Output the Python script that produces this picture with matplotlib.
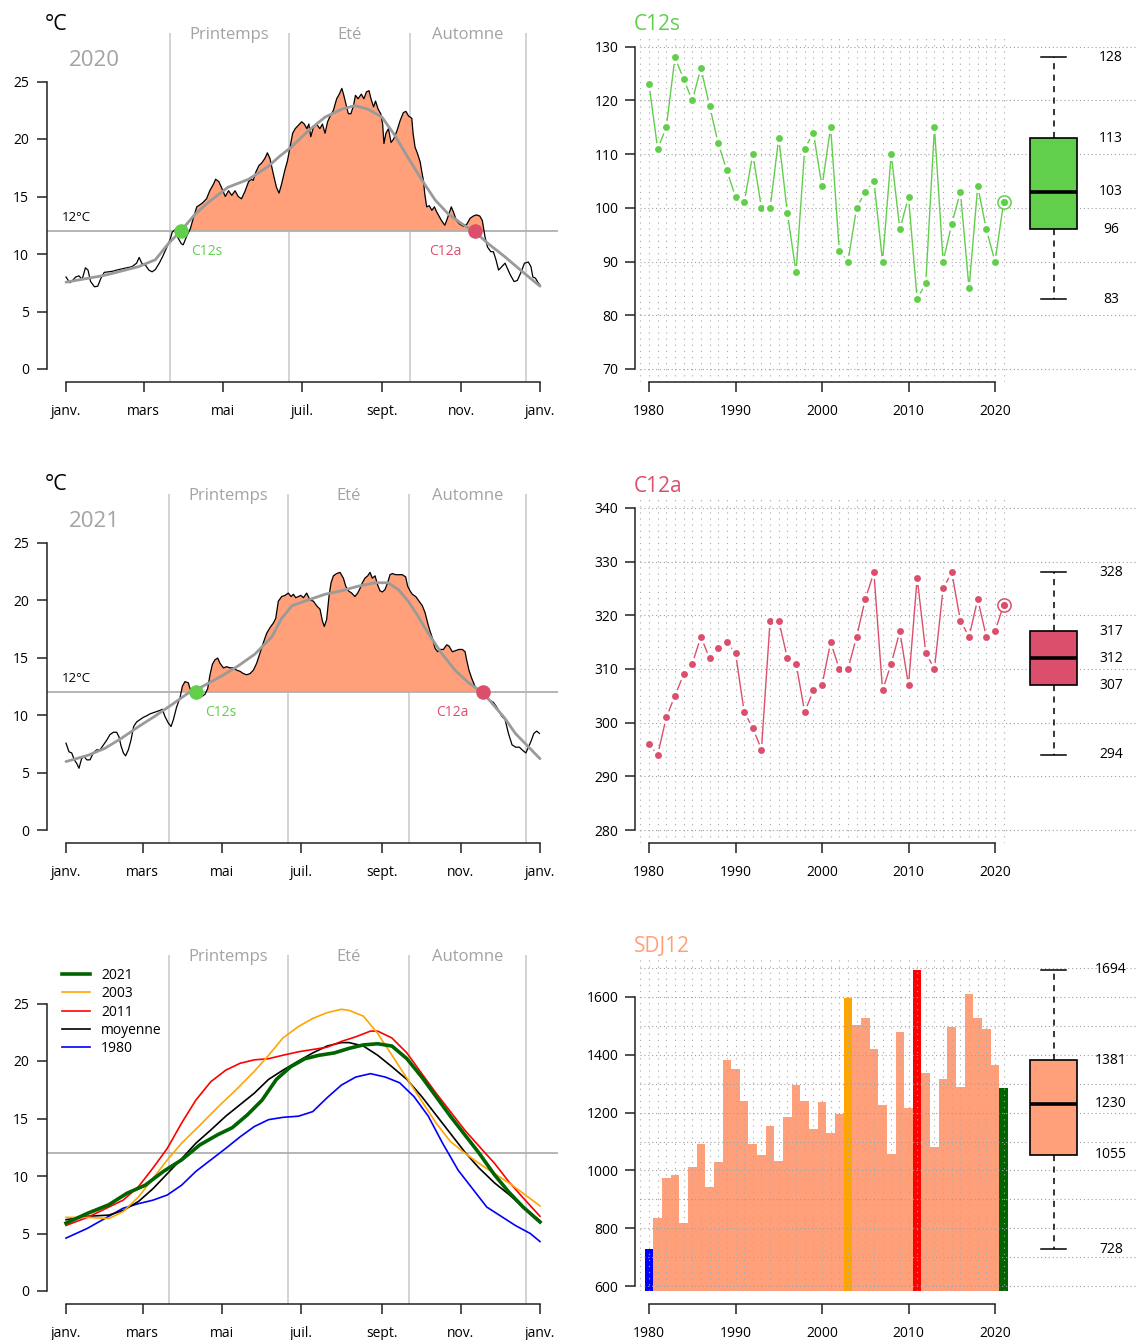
import numpy as np
import matplotlib
matplotlib.use("Agg")
import matplotlib.pyplot as plt
from matplotlib.lines import Line2D

plt.rcParams['font.family'] = ['Open Sans', 'DejaVu Sans']

# ---------------- data ----------------
years = list(range(1980, 2022))
c12s = [123, 111, 115, 128, 124, 120, 126, 119, 112, 107, 102, 101, 110, 100, 100, 113, 99, 88, 111, 114,
        104, 115, 92, 90, 100, 103, 105, 90, 110, 96, 102, 83, 86, 115, 90, 97, 103, 85, 104, 96, 90, 101]
c12a = [296, 294, 301, 305, 309, 311, 316, 312, 314, 315, 313, 302, 299, 295, 319, 319, 312, 311, 302, 306,
        307, 315, 310, 310, 316, 323, 328, 306, 311, 317, 307, 327, 313, 310, 325, 328, 319, 316, 323, 316, 317, 322]
sdj12 = [728, 837, 974, 983, 819, 1011, 1092, 942, 1028, 1383, 1350, 1240, 1090, 1055, 1153, 1032, 1184, 1295,
         1240, 1144, 1235, 1131, 1196, 1598, 1503, 1528, 1421, 1226, 1057, 1480, 1217, 1694, 1337, 1080, 1316,
         1497, 1288, 1610, 1526, 1489, 1364, 1284]
c12s_box = [83, 96, 103, 113, 128]
c12a_box = [294, 307, 312, 317, 328]
sdj12_box = [728, 1055, 1230, 1381, 1694]
highlight = {1980: 'blue', 2003: 'orange', 2011: 'red', 2021: 'darkgreen'}

month_labels = ['janv.', 'mars', 'mai', 'juil.', 'sept.', 'nov.', 'janv.']
months_2020 = [0, 60, 121, 182, 244, 305, 366]
months_2021 = [0, 59, 120, 181, 243, 304, 365]
seasons_2020 = [80, 172, 265.5, 355.5]
seasons_2021 = [79, 171, 264.5, 354.5]
season_names = ['Printemps', 'Eté', 'Automne']

days_2020 = [0, 3, 5, 7.5, 10, 12.5, 15, 17, 19, 22, 24.5, 27, 29.5, 32.5, 36, 39, 43, 47, 51, 54.5, 56.5, 58.5,
             61.5, 64, 66.5, 69, 72, 74.5, 77.5, 80.5, 82, 84, 86, 89, 90.5, 93, 96, 98.5, 101, 105, 108.5, 111,
             114, 115.5, 118, 120, 123, 125.5, 128, 130.5, 133, 135.5, 138, 141, 143, 144.5, 146.5, 149, 151,
             153.5, 155.5, 157.5, 160, 162.5, 164.5, 166.5, 169, 171, 173, 175, 177, 179.5, 182, 184, 186, 187.5,
             189, 191, 193.5, 196, 198, 200, 202, 204, 206.5, 209, 211, 213, 214.5, 216, 218, 220, 222, 223.5,
             225.5, 228, 230, 232, 234, 235.5, 237.5, 239, 241, 243, 244.5, 245.5, 247, 249, 251, 253, 255.5,
             258, 260.5, 262.5, 264.5, 267, 268, 269.5, 271.5, 273.5, 274.5, 276, 277, 278.5, 280.5, 282.5,
             284.5, 286, 288.5, 290, 292.5, 294.5, 297.5, 299, 301.5, 304, 307, 309.5, 312, 314.5, 317, 319.5,
             321.5, 323.5, 325.5, 328, 330, 332, 334, 336.5, 339, 341, 343, 346, 348.5, 351.5, 354, 357, 359,
             360.5, 362.5, 364.5, 366]
temp_2020 = [8.0, 7.5, 7.7, 8.0, 8.1, 7.8, 8.8, 8.6, 7.6, 7.15, 7.2, 7.9, 8.4, 8.45, 8.5, 8.6, 8.7, 8.8, 8.9, 9.2,
             9.7, 9.2, 9.0, 8.6, 8.45, 8.65, 9.2, 9.75, 10.5, 11.3, 11.9, 12.1, 11.5, 10.9, 10.8, 11.5, 12.2,
             13.2, 14.1, 14.4, 14.8, 15.5, 16.1, 16.5, 16.3, 15.8, 15.0, 15.5, 15.1, 15.5, 15.0, 14.8, 15.4,
             16.3, 16.5, 16.4, 17.1, 17.7, 17.9, 18.3, 18.8, 18.3, 17.0, 15.8, 15.3, 16.1, 17.3, 18.1, 19.3,
             20.5, 20.9, 21.2, 21.5, 21.3, 20.9, 21.3, 20.2, 21.0, 21.3, 20.9, 21.3, 20.5, 21.5, 22.0, 22.5,
             23.5, 23.9, 24.4, 23.8, 23.1, 22.2, 22.2, 22.9, 23.8, 23.5, 23.9, 23.5, 24.1, 24.2, 23.5, 22.8,
             23.3, 22.6, 22.2, 21.3, 19.6, 20.5, 20.9, 19.7, 20.0, 20.7, 21.6, 22.3, 22.4, 22.0, 21.8, 20.5,
             19.3, 18.7, 18.0, 17.3, 16.4, 15.25, 14.1, 14.2, 13.8, 14.1, 13.7, 13.2, 12.9, 12.5, 13.1, 14.1,
             13.7, 12.9, 12.6, 12.4, 12.6, 13.1, 13.3, 13.4, 13.3, 12.9, 11.5, 10.6, 10.2, 10.2, 9.5, 8.6, 8.9,
             9.2, 8.7, 8.2, 7.6, 7.7, 8.45, 9.2, 9.3, 8.9, 8.0, 7.9, 7.5, 7.3]
smooth_days_2020 = [0, 30, 56, 69, 79, 89, 100, 110, 125, 141, 156, 165, 174, 187, 200, 213, 223, 233, 244,
                    254, 264, 275, 285, 295, 306, 316, 326, 339, 352, 366]
smooth_2020 = [7.55, 8.15, 8.9, 9.5, 10.9, 12.05, 13.5, 14.5, 15.8, 16.5, 17.6, 18.5, 19.3, 20.7, 21.9, 22.6,
               22.9, 22.6, 21.9, 20.3, 18.4, 16.4, 14.7, 13.5, 12.6, 11.9, 10.9, 9.75, 8.5, 7.2]

days_2021 = [0, 2.3, 4.4, 6.4, 8.2, 10, 12, 14, 16, 18.5, 21, 23.6, 26.2, 28.8, 31.3, 33.9, 36.5, 39, 40.8, 42.4,
             44.2, 45.9, 48, 50, 52.1, 54.4, 57, 59.6, 62.1, 64.7, 67.3, 69.8, 72.4, 74.2, 76.2, 78.8, 80.9,
             82.7, 85.2, 87.8, 89.6, 91.6, 94.2, 95.5, 96.8, 99.3, 101.9, 104.5, 107, 109.1, 110.9, 112.7,
             114.7, 116.8, 118.6, 121.2, 123.7, 126.3, 128.9, 131.4, 134, 136.6, 139.1, 141.7, 144.3, 146.8,
             149.4, 152, 154.5, 157.1, 159.7, 161.5, 163.5, 166.1, 168.6, 171.2, 173.3, 175.1, 176.9, 178.9,
             180.9, 182.8, 185.3, 187.9, 190.5, 193, 195.6, 197.4, 198.9, 200.7, 202.5, 204.1, 205.9, 208.4,
             211, 213.6, 215.4, 217.4, 220, 222.5, 224.6, 226.4, 228.2, 230.2, 232.3, 234.1, 235.9, 238, 240,
             241.8, 243.6, 245.6, 247.7, 249.5, 251.3, 253.9, 256.4, 259, 261.6, 263.1, 264.9, 266.7, 269.3,
             271.8, 274.4, 276.5, 278.5, 280.3, 282.1, 284.2, 286.2, 288, 290.6, 293.1, 294.9, 297.5, 300.1,
             302.6, 305.2, 307.3, 308.5, 310.3, 312.4, 314.9, 317.5, 320.1, 322.7, 325.7, 329.1, 331.6, 335.5,
             338.1, 340.7, 343.5, 346.3, 349.1, 351.9, 354.1, 356.1, 358, 360.3, 362.5, 364.5]
temp_2021 = [7.55, 6.8, 6.7, 6.1, 5.8, 5.37, 6.2, 6.4, 6.1, 6.1, 6.7, 6.97, 6.97, 7.4, 7.8, 8.3, 8.5, 8.5, 8.1,
             7.3, 6.7, 6.45, 6.97, 7.8, 9.0, 9.4, 9.6, 9.8, 9.93, 10.1, 10.2, 10.3, 10.4, 10.5, 9.87, 9.3, 9.0,
             9.6, 10.7, 11.5, 12.5, 12.9, 12.8, 12.3, 11.9, 11.6, 11.6, 11.6, 11.8, 12.3, 13.5, 14.4, 14.8,
             14.95, 14.5, 14.1, 14.2, 14.1, 14.1, 13.9, 13.8, 13.6, 13.5, 13.6, 13.9, 14.5, 15.4, 16.3, 17.1,
             17.6, 18.0, 18.4, 19.9, 20.3, 20.4, 20.6, 20.3, 20.5, 20.2, 20.3, 20.4, 20.2, 20.6, 20.0, 19.9,
             19.5, 19.2, 18.2, 17.7, 18.3, 20.3, 21.5, 22.1, 22.3, 22.4, 21.9, 21.2, 20.8, 20.6, 20.3, 20.6,
             21.0, 21.5, 21.9, 22.1, 22.4, 21.9, 22.1, 21.3, 20.8, 20.7, 20.9, 21.5, 22.2, 22.3, 22.2, 22.2,
             22.2, 22.0, 21.2, 20.8, 20.5, 20.3, 19.9, 19.5, 18.9, 18.0, 17.3, 16.7, 15.8, 15.5, 15.7, 15.7,
             16.1, 16.0, 15.5, 15.6, 15.7, 15.7, 15.5, 14.8, 13.9, 13.2, 12.5, 12.05, 11.9, 11.6, 11.3, 11.1,
             10.7, 9.9, 9.6, 8.4, 7.4, 7.2, 7.2, 6.9, 6.7, 7.2, 7.7, 8.4, 8.6, 8.4]
smooth_days_2021 = [0, 17, 30, 43, 56, 68.5, 81.5, 94, 100.5, 107, 120, 133, 145.5, 158.5, 166, 174, 186.5,
                    199.5, 212, 225, 238, 248, 256, 263.5, 271, 279, 289, 299.5, 310, 321.5, 330.5, 338, 346, 365]
smooth_2021 = [5.95, 6.5, 7.1, 8.0, 9.0, 9.9, 10.9, 11.9, 12.2, 12.6, 13.4, 14.3, 15.3, 16.8, 18.4, 19.5, 20.0,
               20.5, 20.8, 21.2, 21.5, 21.5, 20.9, 19.9, 18.6, 17.1, 15.4, 13.9, 12.8, 11.9, 10.7, 9.7, 8.4, 6.2]

# smoothed yearly curves (bottom-left panel)
days_y2021 = [0, 16.5, 33, 47, 61, 75, 89, 103, 117, 128, 139.5, 151, 162, 173, 184, 195, 206.5, 218, 229, 240,
              251, 262.5, 274, 285, 296, 307, 318, 330, 341, 352, 365]
curve_2021 = [5.9, 6.75, 7.5, 8.5, 9.2, 10.4, 11.4, 12.7, 13.6, 14.2, 15.3, 16.6, 18.4, 19.5, 20.2, 20.5, 20.7,
              21.1, 21.4, 21.5, 21.3, 20.2, 18.6, 16.9, 15.2, 13.6, 12.0, 10.1, 8.6, 7.3, 6.0]
days_y2003 = [0, 16.5, 33, 44, 56, 67, 78, 89, 103, 117, 131, 145, 156, 167, 179, 190, 201, 212, 218, 229, 240,
              251, 262.5, 274, 285, 296, 307, 318, 330, 341, 352, 365]
curve_2003 = [6.4, 6.4, 6.3, 6.9, 8.2, 9.8, 11.4, 12.85, 14.4, 16.0, 17.5, 19.1, 20.5, 22.0, 23.0, 23.7, 24.2,
              24.5, 24.4, 23.9, 22.4, 20.5, 18.5, 16.5, 14.6, 13.0, 12.0, 11.1, 10.2, 9.4, 8.5, 7.4]
days_y2011 = [0, 16.5, 33, 44, 56, 67, 78, 89, 100, 111.5, 123, 134, 145, 156, 167, 179, 190, 201, 212, 223,
              234.5, 240, 251, 262.5, 274, 285, 296, 307, 318, 330, 341, 352, 365]
curve_2011 = [5.7, 6.4, 7.3, 7.9, 9.1, 10.7, 12.4, 14.6, 16.6, 18.2, 19.2, 19.8, 20.1, 20.2, 20.5, 20.8, 21.0,
              21.2, 21.7, 22.1, 22.6, 22.6, 22.0, 20.7, 18.9, 17.2, 15.6, 14.0, 12.6, 11.1, 9.5, 8.1, 6.5]
days_mean = [0, 16.5, 33, 44, 56, 67, 78, 89, 100, 111.5, 123, 134, 145, 156, 167, 179, 190, 201, 212, 218, 229,
             240, 251, 262.5, 274, 285, 296, 307, 318, 330, 341, 352, 365]
curve_mean = [6.2, 6.5, 6.6, 7.0, 7.8, 8.9, 10.2, 11.5, 12.85, 14.0, 15.2, 16.2, 17.2, 18.4, 19.2, 20.0, 20.7,
              21.3, 21.6, 21.6, 21.3, 20.5, 19.5, 18.4, 16.9, 15.3, 13.7, 12.1, 10.7, 9.4, 8.4, 7.3, 6.1]
days_y1980 = [0, 16.5, 33, 44, 56, 67, 78, 89, 100, 111.5, 123, 134, 145, 156, 167, 179, 190, 201, 212, 223,
              234.5, 246, 257, 268, 279, 290, 302, 313, 324, 335, 346, 357.5, 365]
curve_1980 = [4.6, 5.45, 6.5, 7.2, 7.6, 7.9, 8.35, 9.2, 10.4, 11.4, 12.4, 13.4, 14.3, 14.9, 15.1, 15.2, 15.6,
              16.8, 17.9, 18.6, 18.9, 18.6, 18.1, 16.9, 15.2, 12.85, 10.5, 8.9, 7.3, 6.5, 5.7, 5.0, 4.3]

# ---------------- styling ----------------
GREEN = '#62CF4C'
PINK = '#DC4F6C'
SALMON = '#FFA07A'
GRAYTXT = '#A3A3A3'
SEASON_C = '#D0D0D0'
LINE12_C = '#B0B0B0'
SPINE_C = '#222222'
W, H = 1138, 1340
PXPT = 72 / 100.0

fig = plt.figure(figsize=(W / 100, H / 100), dpi=100)


def ax_px(x0, y0, x1, y1):
    return fig.add_axes([x0 / W, 1 - y1 / H, (x1 - x0) / W, (y1 - y0) / H])


def style_axes(ax):
    for s in ['top', 'right']:
        ax.spines[s].set_visible(False)
    for s in ['left', 'bottom']:
        ax.spines[s].set_linewidth(1.1)
        ax.spines[s].set_color(SPINE_C)
    ax.tick_params(direction='out', length=7, width=1.1, color=SPINE_C, labelsize=10, pad=6)
    ax.patch.set_alpha(0)


def left_panel(y0, ndays, months, seasons, daily=None, smooth=None, c12=None, year_label=None, show_12=True):
    ax = ax_px(47, y0 - 349, 560, y0 + 13)
    sx = 474.0 / ndays
    sy = 11.5
    ax.set_xlim((47 - 66) / sx, (560 - 66) / sx)
    ax.set_ylim(-13 / sy, 349 / sy)
    style_axes(ax)
    ax.spines['left'].set_bounds(0, 25)
    ax.spines['bottom'].set_bounds(0, ndays)
    ax.set_yticks([0, 5, 10, 15, 20, 25])
    ax.set_xticks(months)
    ax.set_xticklabels(month_labels)
    ax.tick_params(axis='x', pad=8.5)
    ytop = 336 / sy
    ax.vlines(seasons, -13 / sy, ytop, color=SEASON_C, lw=1.3, zorder=1)
    for i, name in enumerate(season_names):
        mid = (seasons[i] + seasons[i + 1]) / 2
        ax.text(mid, 334 / sy, name, ha='center', va='center', fontsize=12, color=GRAYTXT)
    ax.hlines(12, (47 - 66) / sx, (558 - 66) / sx, color=LINE12_C, lw=1.3, zorder=2)
    if daily is not None:
        d, t = np.array(daily[0]), np.array(daily[1])
        ax.fill_between(d, t, 12, where=t > 12, interpolate=True, color=SALMON, lw=0, zorder=1.5)
        ax.plot(d, t, color='black', lw=0.9, zorder=3)
    if smooth is not None:
        ax.plot(smooth[0], smooth[1], color='#9A9A9A', lw=2.0, zorder=4, solid_capstyle='round')
    if c12 is not None:
        s_day, a_day = c12[0] - 1, c12[1] - 1
        ax.plot([s_day], [12], 'o', ms=10.5, color=GREEN, mec='none', zorder=5)
        ax.plot([a_day], [12], 'o', ms=10.5, color=PINK, mec='none', zorder=5)
        ax.annotate('C12s', (s_day, 12), xytext=(7, -15), textcoords='offset points',
                    ha='left', va='center', fontsize=10, color=GREEN)
        ax.annotate('C12a', (a_day, 12), xytext=(-10, -15), textcoords='offset points',
                    ha='right', va='center', fontsize=10, color=PINK)
    if show_12:
        ax.text((62 - 66) / sx, 13.2, '12°C', ha='left', va='center', fontsize=9.5)
    if year_label is not None:
        ax.text((69 - 66) / sx, 309 / sy, year_label, ha='left', va='center',
                fontsize=16, color=GRAYTXT)
        fig.text(45 / W, 1 - (y0 - 345) / H, '°C', ha='left', va='center', fontsize=15.5)
    return ax


# ---- top-left 2020 ----
left_panel(369, 366, months_2020, seasons_2020, daily=(days_2020, temp_2020),
           smooth=(smooth_days_2020, smooth_2020), c12=(c12s[-2], c12a[-2]), year_label='2020')
# ---- middle-left 2021 ----
left_panel(830, 365, months_2021, seasons_2021, daily=(days_2021, temp_2021),
           smooth=(smooth_days_2021, smooth_2021), c12=(c12s[-1], c12a[-1]), year_label='2021')
# ---- bottom-left comparison ----
axc = left_panel(1291, 365, months_2021, seasons_2021, show_12=False)
axc.plot(days_y1980, curve_1980, color='blue', lw=1.2, zorder=5)
axc.plot(days_mean, curve_mean, color='black', lw=1.2, zorder=5)
axc.plot(days_y2011, curve_2011, color='red', lw=1.2, zorder=5)
axc.plot(days_y2003, curve_2003, color='orange', lw=1.2, zorder=5)
axc.plot(days_y2021, curve_2021, color='darkgreen', lw=2.6, zorder=6, solid_joinstyle='round')
handles = [Line2D([], [], color='darkgreen', lw=2.6), Line2D([], [], color='orange', lw=1.2),
           Line2D([], [], color='red', lw=1.2), Line2D([], [], color='black', lw=1.2),
           Line2D([], [], color='blue', lw=1.2)]
axc.legend(handles, ['2021', '2003', '2011', 'moyenne', '1980'], loc='upper left',
           bbox_to_anchor=(62 / W, 1 - 968 / H), bbox_transform=fig.transFigure, frameon=False,
           fontsize=10, handlelength=2.0, handletextpad=0.8, labelspacing=0.24, borderpad=0,
           borderaxespad=0)

# ---------------- right panels ----------------
PX_YEAR = 8.65
X0 = 1980 - (649 - 635) / PX_YEAR
X1 = 1980 + (1138 - 649) / PX_YEAR
XG1 = 1980 + (1135 - 649) / PX_YEAR
BOXX = 1980 + (1053.5 - 649) / PX_YEAR
BOXW = 47 / PX_YEAR
CAPW = 25 / PX_YEAR
LABX = 1980 + (1111 - 649) / PX_YEAR


def right_panel(top, bot, v0, p0, v1, p1, yticks, hgrid, box, color, title, title_y, outward=0):
    ax = ax_px(635, top, 1138, bot)
    k = (v1 - v0) / (p1 - p0)
    ax.set_ylim(v0 + (bot - p0) * k, v0 + (top - p0) * k)
    ax.set_xlim(X0, X1)
    style_axes(ax)
    ax.spines['left'].set_bounds(yticks[0], yticks[-1])
    ax.spines['bottom'].set_bounds(1980, 2020)
    if outward:
        ax.spines['bottom'].set_position(('outward', outward * PXPT))
    ax.set_yticks(yticks)
    ax.set_xticks([1980, 1990, 2000, 2010, 2020])
    ax.tick_params(axis='y', pad=5)
    ax.tick_params(axis='x', pad=8.5)
    ylo, yhi = ax.get_ylim()
    ax.vlines(range(1979, 2022), ylo, yhi, color='#A8A8A8', lw=0.8, linestyles=[(0, (1, 4.5))], zorder=2)
    ax.hlines(hgrid, 1979, XG1, color='#A0A0A0', lw=0.8, linestyles=[(0, (1, 2.5))], zorder=2)
    res = ax.bxp([dict(whislo=box[0], q1=box[1], med=box[2], q3=box[3], whishi=box[4], fliers=[])],
                 positions=[BOXX], widths=BOXW, capwidths=CAPW, patch_artist=True, showfliers=False,
                 manage_ticks=False,
                 boxprops=dict(facecolor=color, edgecolor='black', linewidth=1.2),
                 medianprops=dict(color='black', linewidth=2.6),
                 whiskerprops=dict(color='black', linewidth=1.1, linestyle=(0, (4, 3.5))),
                 capprops=dict(color='black', linewidth=1.1))
    for key in res:
        for art in res[key]:
            art.set_zorder(4)
    for v in box:
        ax.text(LABX, v, str(v), ha='center', va='center', fontsize=10)
    fig.text(634 / W, 1 - title_y / H, title, ha='left', va='center', fontsize=15, color=color)
    return ax


def series(ax, vals, color):
    ax.plot(years, vals, color=color, lw=1.0, marker='o', ms=7.2, mfc=color, mec='white', mew=2.2, zorder=5)
    ax.plot([years[-1]], [vals[-1]], 'o', ms=9.5, mfc='white', mec=color, mew=1.1, zorder=6)
    ax.plot([years[-1]], [vals[-1]], 'o', ms=5.2, mfc=color, mec='none', zorder=7)


ax1 = right_panel(34, 382, 70, 369, 130, 46.7, list(range(70, 131, 10)), list(range(70, 131, 10)),
                  c12s_box, GREEN, 'C12s', 24)
series(ax1, c12s, GREEN)

ax2 = right_panel(495, 843, 280, 830, 340, 508, list(range(280, 341, 10)), list(range(280, 341, 10)),
                  c12a_box, PINK, 'C12a', 486)
series(ax2, c12a, PINK)

ax3 = right_panel(956, 1291, 600, 1286, 1600, 997, list(range(600, 1601, 200)), list(range(600, 1701, 100)),
                  sdj12_box, SALMON, 'SDJ12', 947, outward=13)
bar_colors = [highlight.get(y, SALMON) for y in years]
ax3.bar(years, sdj12, width=1.0, color=bar_colors, lw=0, zorder=1)

fig.savefig('out.png', dpi=100)
